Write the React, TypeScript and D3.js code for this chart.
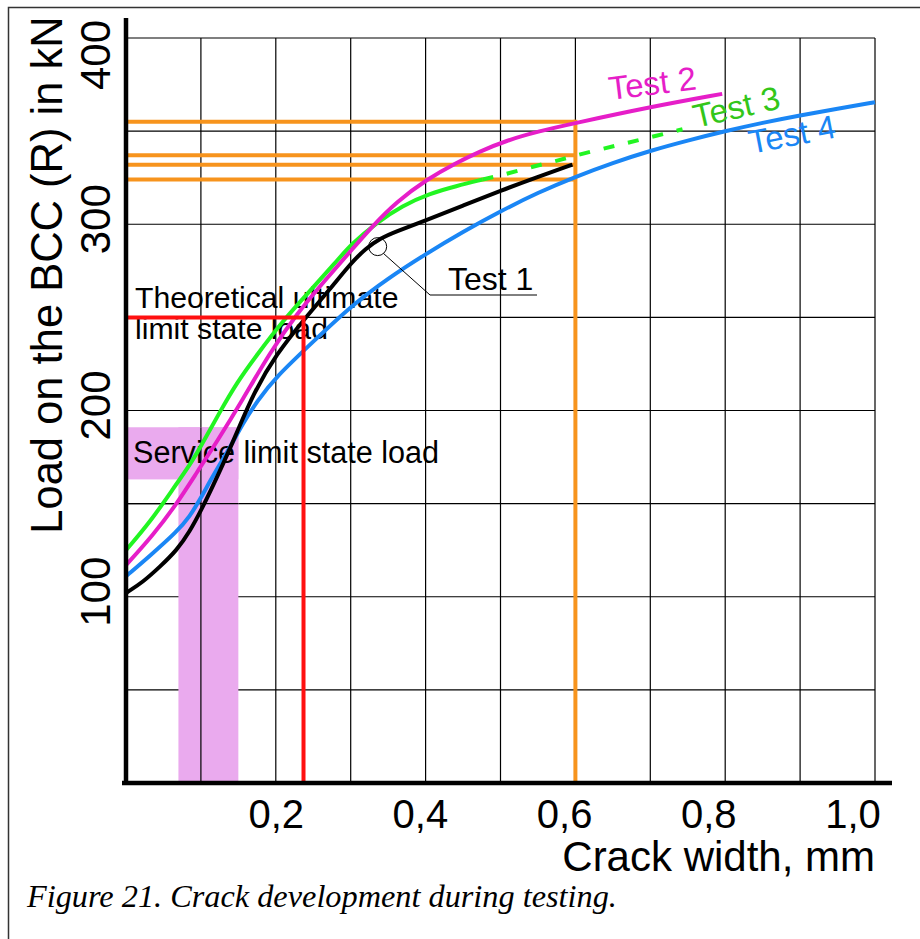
import * as d3 from 'd3';

// crack width (mm) and load (kN)
const test1Crack = [0, 0.023, 0.045, 0.068, 0.085, 0.1, 0.125, 0.149, 0.17, 0.2, 0.24, 0.272, 0.3, 0.32, 0.34, 0.36, 0.4, 0.45, 0.5, 0.55, 0.596];
const test1Load = [102, 108, 116, 125, 135, 146, 167, 189, 209, 230, 250, 265, 279, 287, 292.5, 296, 302, 310, 318, 325.5, 332];

const test2Crack = [0, 0.036, 0.068, 0.095, 0.121, 0.156, 0.192, 0.228, 0.268, 0.303, 0.329, 0.361, 0.401, 0.441, 0.472, 0.508, 0.552, 0.596, 0.7, 0.796];
const test2Load = [117, 133, 150, 167, 183, 206, 231, 252, 271, 287, 299, 312, 324, 333, 339, 345, 350, 354, 363, 370];

const test3Crack = [0, 0.032, 0.063, 0.089, 0.103, 0.125, 0.148, 0.175, 0.209, 0.245, 0.281, 0.3, 0.335, 0.369, 0.405, 0.441, 0.476];
const test3Load = [125, 140, 158, 173, 183, 199, 215, 230, 248, 264, 280, 289, 301, 310, 316.5, 320.5, 324];
// extrapolated part, drawn dashed
const test3ExtCrack = [0.476, 0.503, 0.539, 0.575, 0.601, 0.636, 0.668, 0.703, 0.743];
const test3ExtLoad = [324, 326.5, 330.5, 334, 337, 340.5, 343.5, 347, 351];

const test4Crack = [0, 0.032, 0.068, 0.085, 0.1, 0.112, 0.125, 0.14, 0.156, 0.175, 0.2, 0.25, 0.3, 0.35, 0.4, 0.45, 0.5, 0.55, 0.6, 0.65, 0.7, 0.75, 0.8, 0.85, 0.9, 0.95, 1.0];
const test4Load = [111, 122, 135, 143, 153, 162, 171, 181, 193, 205, 218, 237, 256, 271, 284, 296, 307, 317, 325.5, 333, 339.5, 345, 350, 354.5, 358.5, 362, 365.5];

// loads at 0.6 mm (orange markers)
const loadsAt06 = [355, 337, 332, 324];
const crackLimit = 0.6;

// theoretical ultimate limit state
const ultimateLoad = 250;
const ultimateCrack = 0.237;

// service limit state band
const serviceLoad = [163, 191];
const serviceCrack = [0.07, 0.15];

const xGrid = d3.range(1, 11).map((d) => d / 10);
const yGrid = [50, 100, 150, 200, 250, 300, 350, 400];
const xTicks = [0.2, 0.4, 0.6, 0.8, 1.0];
const yTicks = [100, 200, 300, 400];

const W = 920;
const H = 939;

const x = d3.scaleLinear().domain([0, 1]).range([126, 875]);
const y = d3.scaleLinear().domain([0, 400]).range([783, 38]);

const line = d3
  .line<[number, number]>()
  .x((d) => x(d[0]))
  .y((d) => y(d[1]))
  .curve(d3.curveBasis);

const zip = (a: number[], b: number[]) => a.map((v, i) => [v, b[i]] as [number, number]);

const SANS = '"Liberation Sans", Arial, sans-serif';
const MAGENTA = '#e61ec8';
const GREEN = '#22f522';
const BLUE = '#1a86f5';
const ORANGE = '#f7941d';
const RED = '#ff1010';

export default function App() {
  const fmt = (v: number) => v.toFixed(1).replace('.', ',');
  const circle = { cx: x(0.336), cy: y(288) };

  return (
    <svg width={W} height={H} style={{ position: 'absolute', left: 0, top: 0, background: '#fff' }}>
      {/* frame */}
      <path d={`M8.5,${H} V7.5 H${W}`} fill="none" stroke="#333" strokeWidth={1.5} />

      {/* grid */}
      <g stroke="#000" strokeWidth={1.2}>
        {xGrid.map((g) => (
          <line key={'gx' + g} x1={x(g)} x2={x(g)} y1={y(400)} y2={y(0)} />
        ))}
        {yGrid.map((g) => (
          <line key={'gy' + g} x1={x(0)} x2={x(1)} y1={y(g)} y2={y(g)} />
        ))}
      </g>

      {/* service limit state band */}
      <g fill="#eaaaee">
        <rect x={x(0)} y={y(serviceLoad[1])} width={x(serviceCrack[1]) - x(0)} height={y(serviceLoad[0]) - y(serviceLoad[1])} />
        <rect x={x(serviceCrack[0])} y={y(serviceLoad[1])} width={x(serviceCrack[1]) - x(serviceCrack[0])} height={y(0) - y(serviceLoad[1])} />
      </g>
      <g stroke="#000" strokeWidth={1.2}>
        <line x1={x(0.1)} x2={x(0.1)} y1={y(serviceLoad[1])} y2={y(0)} />
        <line x1={x(0)} x2={x(0.15)} y1={y(150)} y2={y(150)} />
      </g>

      <text x={133} y={463} fontFamily={SANS} fontSize={30.6} fill="#000">Service limit state load</text>
      <text x={135} y={307.5} fontFamily={SANS} fontSize={30.2} fill="#000">Theoretical ultimate</text>
      <text x={135} y={338.5} fontFamily={SANS} fontSize={30.2} fill="#000">limit state load</text>

      {/* orange markers at 0.6 mm */}
      <g stroke={ORANGE} strokeWidth={4} fill="none">
        {loadsAt06.map((l) => (
          <line key={'o' + l} x1={x(0)} x2={x(crackLimit)} y1={y(l)} y2={y(l)} />
        ))}
        <line x1={x(crackLimit)} x2={x(crackLimit)} y1={y(d3.max(loadsAt06) as number) - 2} y2={y(0)} />
      </g>

      {/* curves */}
      <g fill="none" strokeWidth={4} strokeLinecap="butt">
        <path d={line(zip(test4Crack, test4Load)) || ''} stroke={BLUE} />
        <path d={line(zip(test3Crack, test3Load)) || ''} stroke={GREEN} />
        <path d={line(zip(test3ExtCrack, test3ExtLoad)) || ''} stroke={GREEN} strokeDasharray="11 14" />
        <path d={line(zip(test2Crack, test2Load)) || ''} stroke={MAGENTA} />
        <path d={line(zip(test1Crack, test1Load)) || ''} stroke="#000" />
      </g>

      {/* ultimate limit state */}
      <path
        d={`M${x(0)},${y(ultimateLoad)} H${x(ultimateCrack)} V${y(0)}`}
        fill="none"
        stroke={RED}
        strokeWidth={4}
      />

      {/* Test 1 leader */}
      <circle cx={circle.cx} cy={circle.cy} r={9} fill="none" stroke="#000" strokeWidth={1} />
      <path d={`M${circle.cx + 6},${circle.cy + 7} L430,295 H537`} fill="none" stroke="#000" strokeWidth={1} />
      <text x={448} y={290} fontFamily={SANS} fontSize={32} fill="#000">Test 1</text>

      <text transform="translate(610,100) rotate(-7)" fontFamily={SANS} fontSize={33} fill={MAGENTA}>Test 2</text>
      <text transform="translate(696,128) rotate(-13)" fontFamily={SANS} fontSize={33} fill="#33c61a">Test 3</text>
      <text transform="translate(751,154) rotate(-11)" fontFamily={SANS} fontSize={33} fill={BLUE}>Test 4</text>

      {/* axes */}
      <line x1={x(0)} x2={x(0)} y1={18} y2={y(0) + 2} stroke="#000" strokeWidth={4.5} />
      <line x1={x(0) - 4} x2={892} y1={y(0)} y2={y(0)} stroke="#000" strokeWidth={4.5} />

      {xTicks.map((t) => (
        <text
          key={'xt' + t}
          x={x(t) + 6 - 28 * t}
          y={828}
          textAnchor="middle"
          fontFamily={SANS}
          fontSize={40}
          fill="#000"
        >
          {fmt(t)}
        </text>
      ))}
      {yTicks.map((t) => (
        <text
          key={'yt' + t}
          transform={`translate(110,${Math.max(y(t) - 5, 55)}) rotate(-90)`}
          textAnchor="middle"
          fontFamily={SANS}
          fontSize={42}
          fill="#000"
        >
          {t}
        </text>
      ))}

      <text x={875} y={871} textAnchor="end" fontFamily={SANS} fontSize={42} fill="#000">Crack width, mm</text>
      <text transform="translate(62,275) rotate(-90)" textAnchor="middle" fontFamily={SANS} fontSize={43.5} fill="#000">
        Load on the BCC (R) in kN
      </text>

      <text x={27} y={907} fontFamily='"Liberation Serif", "Times New Roman", serif' fontStyle="italic" fontSize={32.3} fill="#000">
        Figure 21. Crack development during testing.
      </text>
    </svg>
  );
}
